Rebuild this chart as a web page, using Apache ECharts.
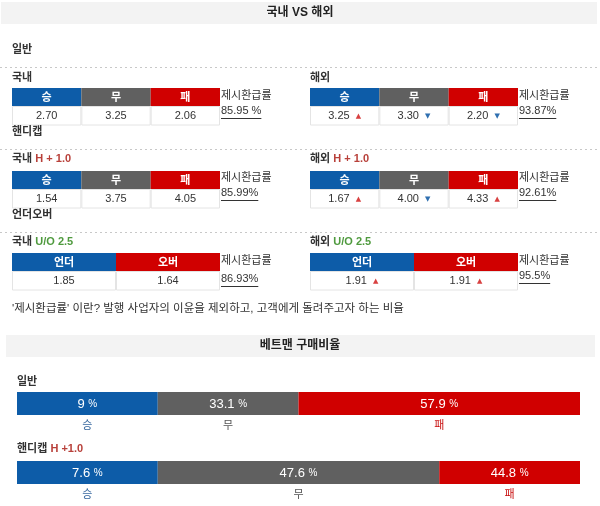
<!DOCTYPE html>
<html>
<head>
<meta charset="utf-8">
<script src="https://cdn.jsdelivr.net/npm/echarts@6/dist/echarts.min.js"></script>
<style>
  html, body { margin: 0; padding: 0; background: #fff; }
  #main { width: 600px; height: 506px; }
</style>
</head>
<body>
<div id="main"></div>
<script>
  // 배당 데이터
  const heads3 = ['승', '무', '패']
  const headsUO = ['언더', '오버']
  const domGeneral = [2.70, 3.25, 2.06]
  const ovsGeneral = [3.25, 3.30, 2.20]
  const ovsGeneralTrend = ['up', 'down', 'down']
  const domHandicap = [1.54, 3.75, 4.05]
  const ovsHandicap = [1.67, 4.00, 4.33]
  const ovsHandicapTrend = ['up', 'down', 'up']
  const domUO = [1.85, 1.64]
  const ovsUO = [1.91, 1.91]
  const ovsUOTrend = ['up', 'up']
  const payoutDom = ['85.95 %', '85.99%', '86.93%']
  const payoutOvs = ['93.87%', '92.61%', '95.5%']
  // 구매비율 (%)
  const buyGeneral = [9, 33.1, 57.9]
  const buyHandicap = [7.6, 47.6, 44.8]

  const FONT = '"Liberation Sans", Arial, "Noto Sans CJK KR", sans-serif'
  const BLUE = '#0d5ca8'
  const GRAY = '#606060'
  const RED = '#d00000'
  const colors3 = [BLUE, GRAY, RED]
  const colorsUO = [BLUE, RED]
  const subColors = ['#3a6aa0', '#555555', '#c81010']

  const ctx = document.createElement('canvas').getContext('2d')
  function textWidth(s, size) {
    ctx.font = size + 'px ' + FONT
    return ctx.measureText(s).width
  }

  function txt(x, y, text, opt) {
    return {
      type: 'text', x: x, y: y,
      style: Object.assign({
        text: text, fontSize: 11, fontFamily: FONT, fill: '#333',
        align: 'left', verticalAlign: 'middle'
      }, opt || {})
    }
  }

  function dotted(y) {
    return {
      type: 'line',
      shape: { x1: 0, y1: y, x2: 600, y2: y },
      style: { stroke: '#c8c8c8', lineWidth: 1, lineDash: [2, 3] }
    }
  }

  const richArrow = {
    up: { fill: '#d84040', fontSize: 7, fontFamily: 'DejaVu Sans' },
    down: { fill: '#2f6fb0', fontSize: 7, fontFamily: 'DejaVu Sans' }
  }

  function table(x, y, w, heads, colors, vals, trends) {
    const els = []
    const cw = w / heads.length
    heads.forEach((h, i) => {
      const cx = x + cw * i
      els.push({ type: 'rect', shape: { x: cx, y: y, width: cw, height: 18 }, style: { fill: colors[i] } })
      els.push(txt(cx + cw / 2, y + 9.5, h, { fill: '#fff', fontWeight: 'bold', align: 'center' }))
      els.push({
        type: 'rect',
        shape: { x: cx + 0.5, y: y + 18.5, width: cw - 1, height: 18.5 },
        style: { fill: '#fff', stroke: '#e4e4e4', lineWidth: 1 }
      })
      let s = vals[i].toFixed(2)
      if (trends) s += '  {' + trends[i] + '|' + (trends[i] === 'up' ? '▲' : '▼') + '}'
      els.push(txt(cx + cw / 2, y + 28, s, { align: 'center', rich: richArrow }))
    })
    return els
  }

  function payout(x, y1, y2, pct) {
    const w = textWidth(pct, 11)
    return [
      txt(x, y1, '제시환급률'),
      txt(x, y2, pct),
      { type: 'line', shape: { x1: x, y1: y2 + 7.5, x2: x + w, y2: y2 + 7.5 }, style: { stroke: '#333', lineWidth: 1 } }
    ]
  }

  const graphic = [].concat(
    [
      { type: 'rect', shape: { x: 1, y: 2, width: 596, height: 22 }, style: { fill: '#f3f3f3' } },
      txt(300, 13, '국내 VS 해외', { align: 'center', fontWeight: 'bold', fontSize: 12, fill: '#222' }),
      txt(12, 50, '일반', { fontWeight: 'bold' }),
      dotted(67.5),
      txt(12, 78, '국내', { fontWeight: 'bold' }),
      txt(310, 78, '해외', { fontWeight: 'bold' })
    ],
    table(12, 88, 208, heads3, colors3, domGeneral, null),
    table(310, 88, 208, heads3, colors3, ovsGeneral, ovsGeneralTrend),
    payout(221, 96, 111, payoutDom[0]),
    payout(519, 96, 111, payoutOvs[0]),
    [
      txt(12, 132, '핸디캡', { fontWeight: 'bold' }),
      dotted(149.5),
      txt(12, 159, '국내 {h|H + 1.0}', { fontWeight: 'bold', rich: { h: { fill: '#b8403a', fontWeight: 'bold', fontSize: 11 } } }),
      txt(310, 159, '해외 {h|H + 1.0}', { fontWeight: 'bold', rich: { h: { fill: '#b8403a', fontWeight: 'bold', fontSize: 11 } } })
    ],
    table(12, 171, 208, heads3, colors3, domHandicap, null),
    table(310, 171, 208, heads3, colors3, ovsHandicap, ovsHandicapTrend),
    payout(221, 178, 193, payoutDom[1]),
    payout(519, 178, 193, payoutOvs[1]),
    [
      txt(12, 215, '언더오버', { fontWeight: 'bold' }),
      dotted(232.5),
      txt(12, 242, '국내 {g|U/O 2.5}', { fontWeight: 'bold', rich: { g: { fill: '#4f9a3e', fontWeight: 'bold', fontSize: 11 } } }),
      txt(310, 242, '해외 {g|U/O 2.5}', { fontWeight: 'bold', rich: { g: { fill: '#4f9a3e', fontWeight: 'bold', fontSize: 11 } } })
    ],
    table(12, 253, 208, headsUO, colorsUO, domUO, null),
    table(310, 253, 208, headsUO, colorsUO, ovsUO, ovsUOTrend),
    payout(221, 261, 279, payoutDom[2]),
    payout(519, 261, 276, payoutOvs[2]),
    [
      txt(12, 309, "'제시환급률' 이란? 발행 사업자의 이윤을 제외하고, 고객에게 돌려주고자 하는 비율", { fontSize: 11.5 }),
      { type: 'rect', shape: { x: 6, y: 335, width: 589, height: 22 }, style: { fill: '#f3f3f3' } },
      txt(300, 346, '베트맨 구매비율', { align: 'center', fontWeight: 'bold', fontSize: 12, fill: '#222' }),
      txt(17, 382, '일반', { fontWeight: 'bold' }),
      txt(17, 449, '핸디캡 {h|H +1.0}', { fontWeight: 'bold', rich: { h: { fill: '#b8403a', fontWeight: 'bold', fontSize: 11 } } })
    ]
  )

  // 가장 큰 비율은 2칸, 나머지는 1칸
  function segments(vals) {
    const mx = Math.max.apply(null, vals)
    let acc = 0
    return vals.map((v, i) => {
      const s = acc
      acc += v === mx ? 2 : 1
      return [s, acc, v, i, 0]
    })
  }

  function renderSeg(params, api) {
    const p0 = api.coord([api.value(0), 0])
    const p1 = api.coord([api.value(1), 0])
    const h = api.size([0, 1])[1]
    const i = api.value(3)
    const cx = (p0[0] + p1[0]) / 2
    return {
      type: 'group',
      children: [
        { type: 'rect', shape: { x: p0[0], y: p0[1] - h / 2, width: p1[0] - p0[0], height: h }, style: { fill: colors3[i] } },
        {
          type: 'text', x: cx, y: p0[1] + 0.5,
          style: {
            text: api.value(2) + ' {p|%}', fill: '#fff', fontSize: 13, fontFamily: FONT,
            align: 'center', verticalAlign: 'middle',
            rich: { p: { fill: '#fff', fontSize: 10, fontFamily: FONT } }
          }
        },
        {
          type: 'text', x: cx, y: p0[1] + h / 2 + 11,
          style: { text: heads3[i], fill: subColors[i], fontSize: 11, fontFamily: FONT, align: 'center', verticalAlign: 'middle' }
        }
      ]
    }
  }

  const segG = segments(buyGeneral)
  const segH = segments(buyHandicap)

  const chart = echarts.init(document.getElementById('main'))
  chart.setOption({
    animation: false,
    backgroundColor: '#fff',
    graphic: graphic,
    grid: [
      { left: 17, width: 563, top: 392, height: 23 },
      { left: 17, width: 563, top: 461, height: 23 }
    ],
    xAxis: [
      { gridIndex: 0, type: 'value', min: 0, max: segG[segG.length - 1][1], show: false },
      { gridIndex: 1, type: 'value', min: 0, max: segH[segH.length - 1][1], show: false }
    ],
    yAxis: [
      { gridIndex: 0, type: 'category', data: ['일반'], show: false },
      { gridIndex: 1, type: 'category', data: ['핸디캡'], show: false }
    ],
    series: [
      { type: 'custom', xAxisIndex: 0, yAxisIndex: 0, encode: { x: [0, 1], y: 4 }, data: segG, renderItem: renderSeg },
      { type: 'custom', xAxisIndex: 1, yAxisIndex: 1, encode: { x: [0, 1], y: 4 }, data: segH, renderItem: renderSeg }
    ]
  })
</script>
</body>
</html>
